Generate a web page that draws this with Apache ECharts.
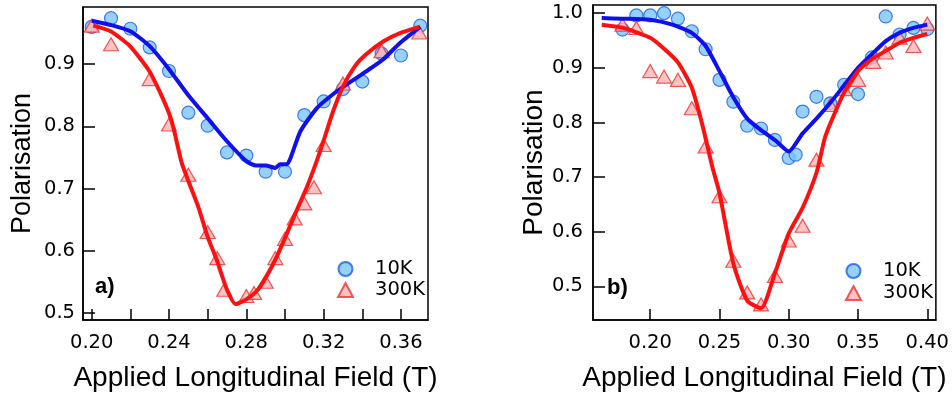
<!DOCTYPE html>
<html>
<head>
<meta charset="utf-8">
<script src="https://cdn.jsdelivr.net/npm/echarts@6/dist/echarts.min.js"></script>
<style>html,body{margin:0;padding:0;background:#fff;}#c{width:952px;height:397px;}</style>
</head>
<body>
<div id="c"></div>
<script>
// ---------- Panel a) data ----------
const aCircX = [0.20,0.21,0.22,0.23,0.24,0.25,0.26,0.27,0.28,0.29,0.30,0.31,0.32,0.33,0.34,0.35,0.36,0.37];
const aCircY = [0.960,0.974,0.957,0.927,0.889,0.822,0.801,0.758,0.753,0.727,0.727,0.818,0.840,0.860,0.872,0.917,0.914,0.962];
const aTriX = [0.20,0.21,0.23,0.24,0.25,0.26,0.265,0.2686,0.28,0.284,0.29,0.295,0.30,0.305,0.31,0.315,0.32,0.33,0.35,0.3695];
const aTriY = [0.962,0.932,0.876,0.803,0.722,0.630,0.588,0.537,0.527,0.532,0.550,0.588,0.619,0.652,0.676,0.702,0.770,0.869,0.921,0.951];
const aFit10X = [0.200,0.210,0.220,0.230,0.240,0.250,0.260,0.270,0.280,0.285,0.290,0.295,0.2975,0.301,0.303,0.308,0.3164,0.325,0.3337,0.3423,0.3509,0.3595,0.370];
const aFit10Y = [0.970,0.963,0.953,0.929,0.892,0.850,0.813,0.776,0.744,0.737,0.737,0.733,0.739,0.739,0.750,0.792,0.829,0.852,0.871,0.889,0.908,0.934,0.960];
const aFit300X = [0.2008,0.2098,0.2198,0.2298,0.2353,0.240,0.2425,0.2465,0.250,0.2552,0.260,0.2647,0.2699,0.2745,0.2802,0.2854,0.2905,0.2957,0.3009,0.3061,0.3113,0.3164,0.3205,0.325,0.330,0.3362,0.342,0.351,0.3595,0.3695];
const aFit300Y = [0.962,0.953,0.929,0.889,0.855,0.821,0.795,0.742,0.712,0.670,0.622,0.585,0.538,0.514,0.522,0.535,0.559,0.590,0.627,0.665,0.702,0.744,0.782,0.825,0.864,0.897,0.916,0.937,0.950,0.960];
const aXTicks = [0.20,0.22,0.24,0.26,0.28,0.30,0.32,0.34,0.36];
const aXLabels = [0.20,0.24,0.28,0.32,0.36];
const aYTicks = [0.5,0.6,0.7,0.8,0.9];

// ---------- Panel b) data ----------
const bCircX = [0.18,0.19,0.20,0.21,0.22,0.23,0.24,0.25,0.26,0.27,0.28,0.29,0.30,0.305,0.31,0.32,0.33,0.34,0.35,0.36,0.37,0.38,0.39,0.40];
const bCircY = [0.970,0.996,0.996,1.000,0.990,0.967,0.934,0.878,0.838,0.794,0.789,0.768,0.735,0.741,0.820,0.847,0.835,0.869,0.852,0.919,0.994,0.961,0.973,0.971];
const bTriX = [0.18,0.19,0.20,0.21,0.22,0.23,0.24,0.25,0.26,0.27,0.28,0.29,0.30,0.31,0.32,0.33,0.34,0.35,0.361,0.37,0.38,0.39,0.40];
const bTriY = [0.979,0.973,0.894,0.884,0.878,0.826,0.756,0.665,0.547,0.489,0.467,0.519,0.584,0.611,0.732,0.832,0.861,0.878,0.911,0.928,0.955,0.940,0.981];
const bFit10X = [0.165,0.18,0.20,0.216,0.23,0.24,0.25,0.26,0.27,0.28,0.29,0.30,0.31,0.32,0.33,0.34,0.35,0.36,0.37,0.38,0.39,0.40];
const bFit10Y = [0.991,0.990,0.988,0.979,0.964,0.940,0.894,0.846,0.807,0.786,0.768,0.747,0.780,0.807,0.836,0.868,0.900,0.925,0.949,0.964,0.973,0.979];
const bFit300X = [0.165,0.18,0.20,0.21,0.22,0.23,0.2377,0.245,0.25,0.26,0.27,0.28,0.29,0.30,0.31,0.32,0.326,0.33,0.34,0.35,0.36,0.37,0.38,0.39,0.40];
const bFit300Y = [0.979,0.9735,0.955,0.935,0.910,0.864,0.795,0.717,0.671,0.542,0.474,0.460,0.524,0.597,0.644,0.708,0.771,0.798,0.855,0.894,0.916,0.931,0.946,0.955,0.962];
const bXTicks = [0.20,0.25,0.30,0.35,0.40];
const bYTicks = [0.5,0.6,0.7,0.8,0.9,1.0];

const zip = (xs, ys) => xs.map((x, i) => [x, ys[i]]);

const circStyle = { color: '#7cc6fa', borderColor: '#1a5fe6', borderWidth: 1.2 };
const triStyle = { color: '#ffb4b4', borderColor: '#f03030', borderWidth: 1.2 };
const blue = '#1010ee', red = '#ff1010';
const FONT = 'DejaVu Sans';
const TITLEFONT = 'Liberation Sans';
const TICKSIZE = 19.5;

function xAxis(grid, min, max, ticks, labels) {
  return {
    type: 'value', gridIndex: grid, min: min, max: max,
    name: 'Applied Longitudinal Field (T)', nameLocation: 'middle', nameGap: 44,
    nameTextStyle: { fontFamily: TITLEFONT, fontSize: 28, color: '#000' },
    splitLine: { show: false },
    axisLine: { show: true, lineStyle: { color: '#000', width: 1.5 } },
    axisTick: { show: true, inside: true, length: 11, customValues: ticks, lineStyle: { color: '#000', width: 1.5 } },
    axisLabel: { customValues: labels, margin: 13, fontFamily: FONT, fontSize: TICKSIZE, color: '#000',
      formatter: v => v.toFixed(2) }
  };
}
function yAxis(grid, min, max, ticks, gap, nsize, lmargin) {
  return {
    type: 'value', gridIndex: grid, min: min, max: max,
    name: 'Polarisation', nameLocation: 'middle', nameGap: gap, nameRotate: 90,
    nameTextStyle: { fontFamily: TITLEFONT, fontSize: nsize, color: '#000' },
    splitLine: { show: false },
    axisLine: { show: true, lineStyle: { color: '#000', width: 1.5 } },
    axisTick: { show: true, inside: true, length: 12, customValues: ticks, lineStyle: { color: '#000', width: 1.5 } },
    axisLabel: { customValues: ticks, margin: lmargin, fontFamily: FONT, fontSize: TICKSIZE, color: '#000',
      formatter: v => v.toFixed(1) }
  };
}
function scatter(name, idx, data, sym, size, style) {
  return { type: 'scatter', name: name, xAxisIndex: idx, yAxisIndex: idx, data: data,
    symbol: sym, symbolSize: size, itemStyle: style, z: 2, silent: true };
}
function fit(name, idx, data, color) {
  return { type: 'line', name: name, xAxisIndex: idx, yAxisIndex: idx, data: data,
    showSymbol: false, smooth: 0.2, lineStyle: { color: color, width: 4 }, z: 5, silent: true };
}
function legend(left, top, gap) {
  return {
    data: [{ name: '10K', icon: 'circle' }, { name: '300K', icon: 'triangle' }],
    orient: 'vertical', left: left, top: top, itemWidth: 15, itemHeight: 14, itemGap: gap,
    selectedMode: false,
    textStyle: { fontFamily: FONT, fontSize: TICKSIZE, color: '#000', padding: [0, 0, 0, 17] }
  };
}

const chart = echarts.init(document.getElementById('c'), null, { renderer: 'canvas' });
chart.setOption({
  backgroundColor: '#fff',
  animation: false,
  grid: [
    { left: 83, top: 7, width: 345, height: 317, show: true, borderColor: '#000', borderWidth: 1.5, containLabel: false },
    { left: 593, top: 5, width: 346, height: 319, show: true, borderColor: '#000', borderWidth: 1.5, containLabel: false }
  ],
  xAxis: [
    xAxis(0, 0.1955, 0.374, aXTicks, aXLabels),
    xAxis(1, 0.1587, 0.4062, bXTicks, bXTicks)
  ],
  yAxis: [
    yAxis(0, 0.4884, 0.992, aYTicks, 47, 27, 8),
    yAxis(1, 0.4385, 1.015, bYTicks, 42, 28, 10)
  ],
  legend: [legend(332, 254, 1), legend(840, 256, 2)],
  graphic: [
    { type: 'text', left: 95, top: 276, style: { text: 'a)', font: 'bold 22px "Liberation Sans"', fill: '#000' } },
    { type: 'text', left: 607, top: 277, style: { text: 'b)', font: 'bold 22px "Liberation Sans"', fill: '#000' } }
  ],
  series: [
    scatter('10K', 0, zip(aCircX, aCircY), 'circle', 13, circStyle),
    scatter('300K', 0, zip(aTriX, aTriY), 'triangle', [15, 13], triStyle),
    fit('fit 10K a', 0, zip(aFit10X, aFit10Y), blue),
    fit('fit 300K a', 0, zip(aFit300X, aFit300Y), red),
    scatter('10K', 1, zip(bCircX, bCircY), 'circle', 13, circStyle),
    scatter('300K', 1, zip(bTriX, bTriY), 'triangle', [15, 13], triStyle),
    fit('fit 10K b', 1, zip(bFit10X, bFit10Y), blue),
    fit('fit 300K b', 1, zip(bFit300X, bFit300Y), red)
  ]
});
</script>
</body>
</html>
